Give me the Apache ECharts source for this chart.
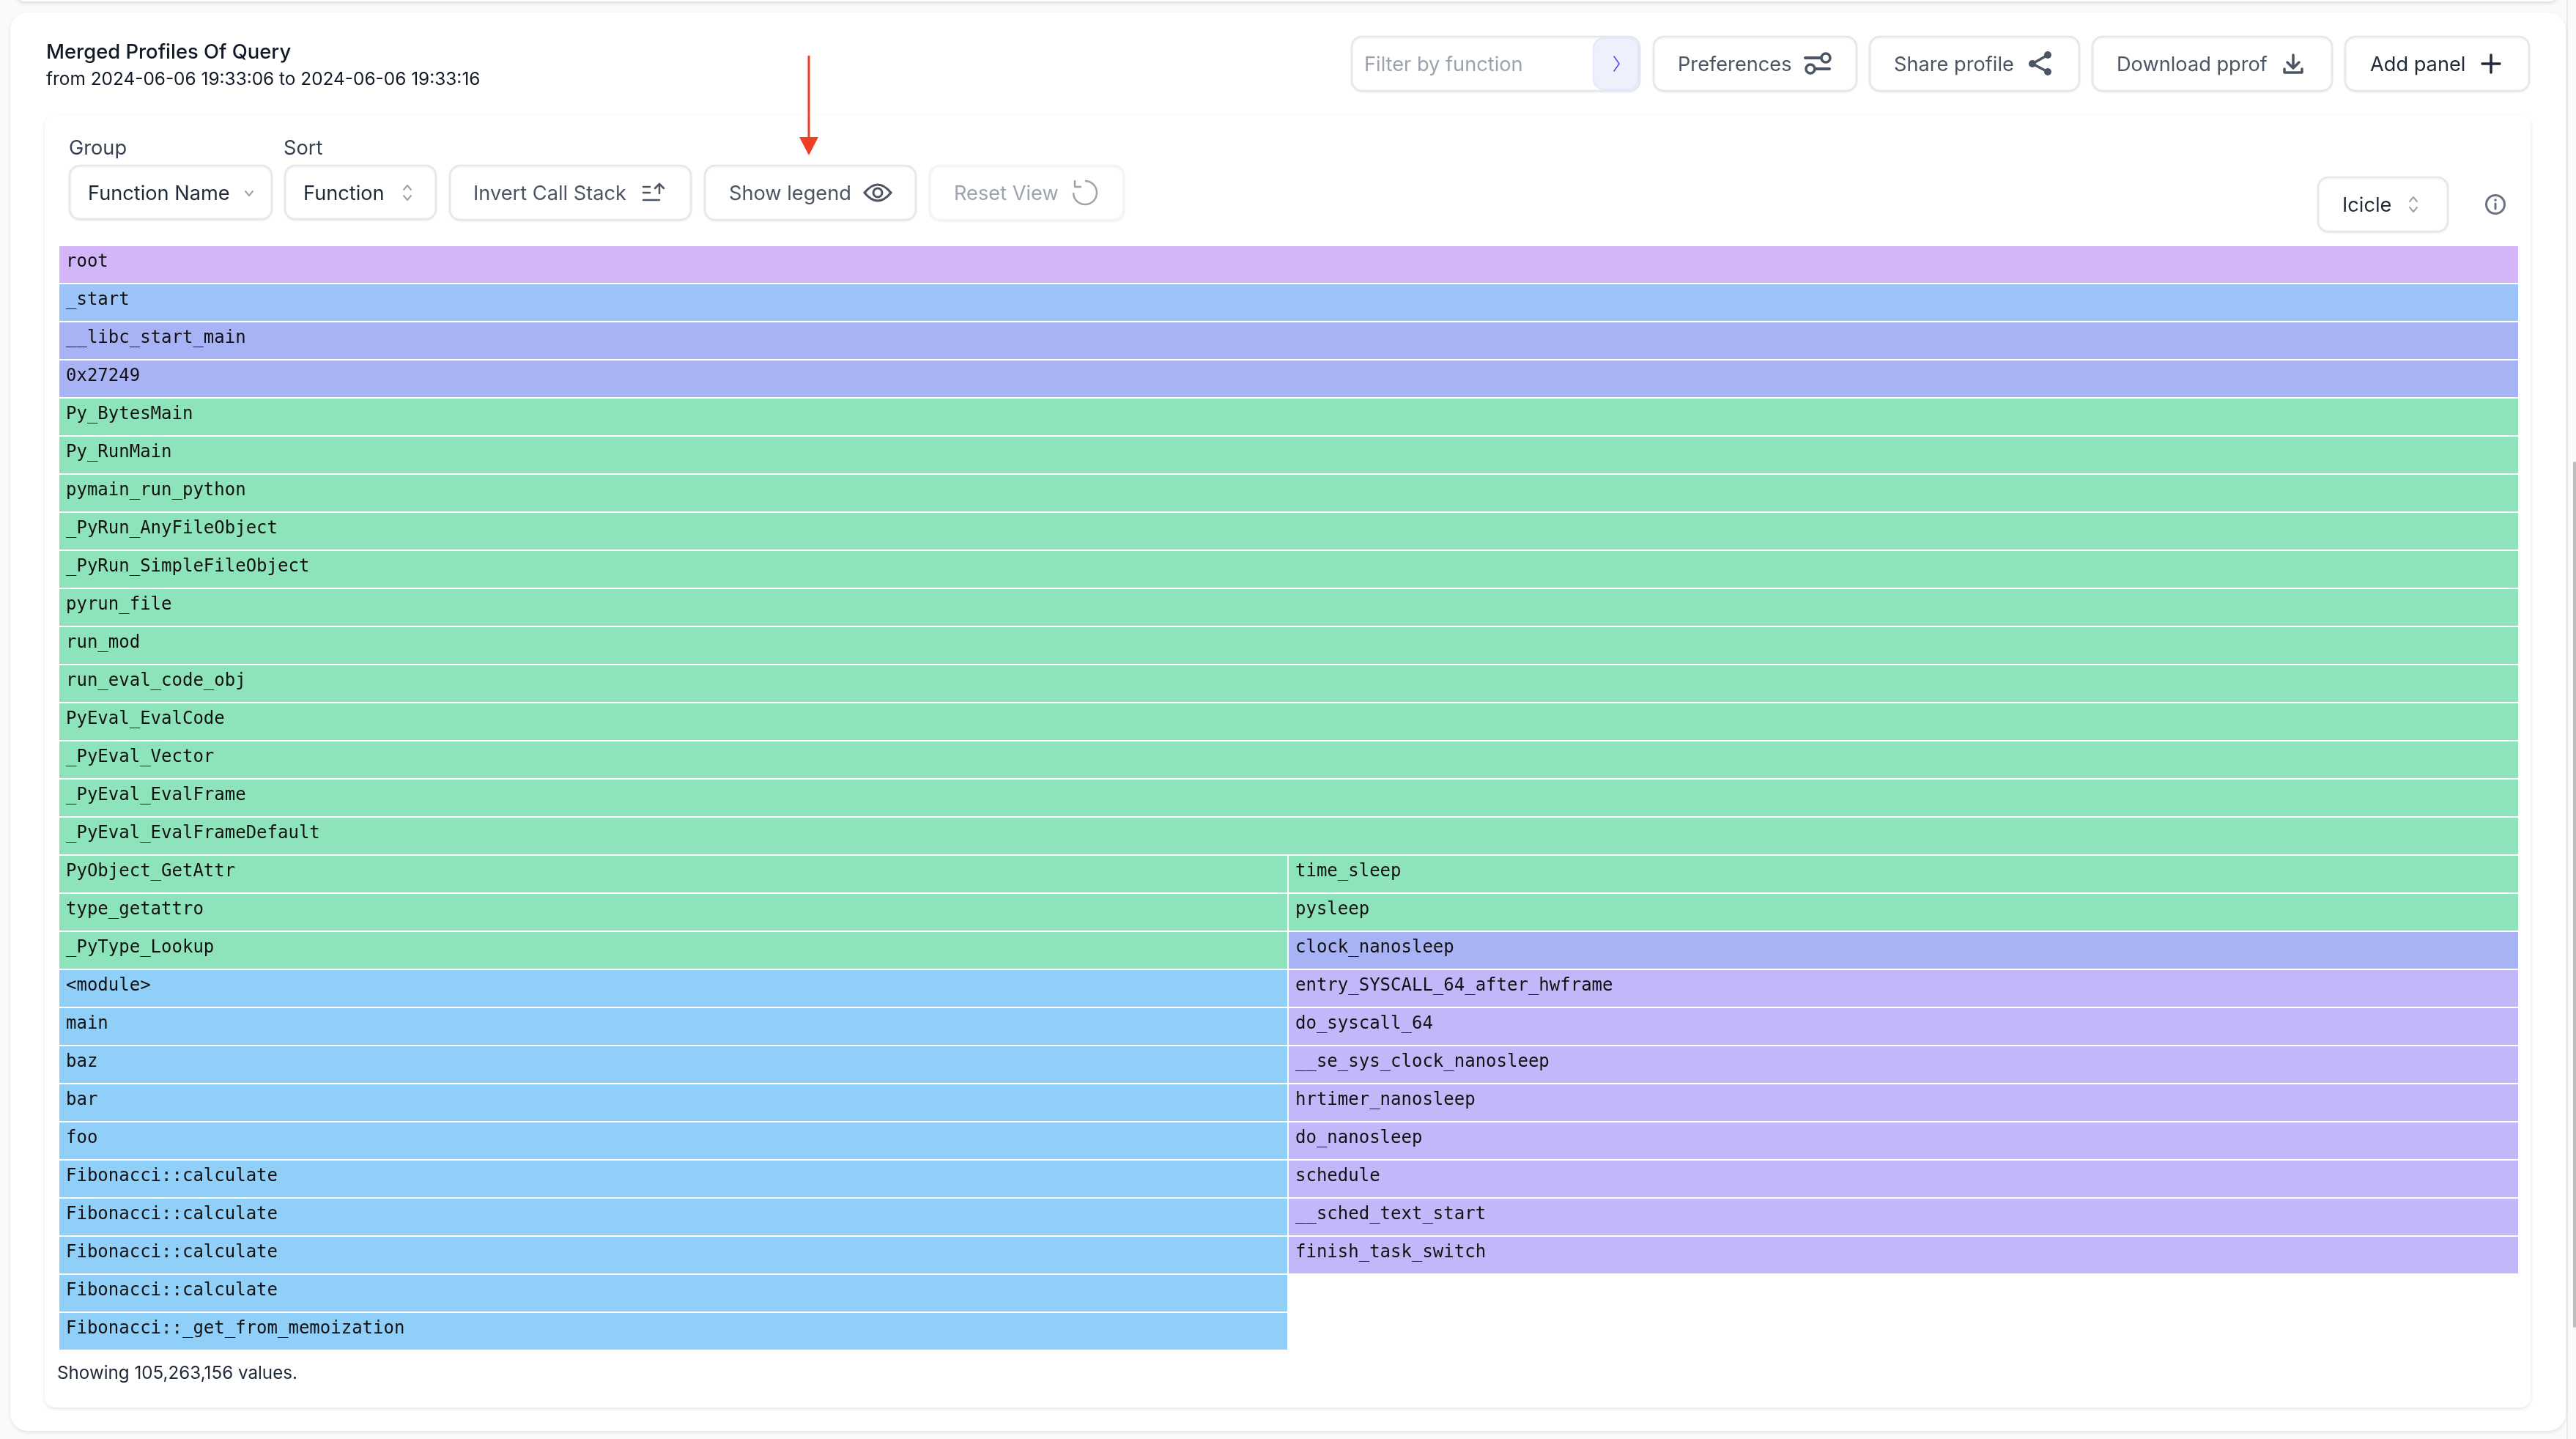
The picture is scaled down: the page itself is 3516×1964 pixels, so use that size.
<!DOCTYPE html>
<html>
<head>
<meta charset="utf-8">
<title>Merged Profiles Of Query</title>
<style>
html, body { margin: 0; padding: 0; background: #f9fafb; }
#main { width: 3516px; height: 1964px; }
</style>
<script src="https://cdn.jsdelivr.net/npm/echarts@6/dist/echarts.min.js"></script>
</head>
<body>
<div id="main"></div>
<script>
// icicle frames, one entry per box
var frameNames = [
    'root', '_start', '__libc_start_main', '0x27249', 'Py_BytesMain', 'Py_RunMain',
    'pymain_run_python', '_PyRun_AnyFileObject', '_PyRun_SimpleFileObject', 'pyrun_file',
    'run_mod', 'run_eval_code_obj', 'PyEval_EvalCode', '_PyEval_Vector', '_PyEval_EvalFrame',
    '_PyEval_EvalFrameDefault',
    'PyObject_GetAttr', 'type_getattro', '_PyType_Lookup', '<module>', 'main', 'baz', 'bar', 'foo',
    'Fibonacci::calculate', 'Fibonacci::calculate', 'Fibonacci::calculate', 'Fibonacci::calculate',
    'Fibonacci::_get_from_memoization',
    'time_sleep', 'pysleep', 'clock_nanosleep', 'entry_SYSCALL_64_after_hwframe', 'do_syscall_64',
    '__se_sys_clock_nanosleep', 'hrtimer_nanosleep', 'do_nanosleep', 'schedule', '__sched_text_start',
    'finish_task_switch'
];
var frameDepths = [
    0, 1, 2, 3, 4, 5, 6, 7, 8, 9, 10, 11, 12, 13, 14, 15,
    16, 17, 18, 19, 20, 21, 22, 23, 24, 25, 26, 27, 28,
    16, 17, 18, 19, 20, 21, 22, 23, 24, 25, 26
];
var frameStarts = [
    0, 0, 0, 0, 0, 0, 0, 0, 0, 0, 0, 0, 0, 0, 0, 0,
    0, 0, 0, 0, 0, 0, 0, 0, 0, 0, 0, 0, 0,
    52600333, 52600333, 52600333, 52600333, 52600333, 52600333, 52600333, 52600333, 52600333, 52600333, 52600333
];
var frameValues = [
    105263156, 105263156, 105263156, 105263156, 105263156, 105263156, 105263156, 105263156,
    105263156, 105263156, 105263156, 105263156, 105263156, 105263156, 105263156, 105263156,
    52600333, 52600333, 52600333, 52600333, 52600333, 52600333, 52600333, 52600333,
    52600333, 52600333, 52600333, 52600333, 52600333,
    52662823, 52662823, 52662823, 52662823, 52662823, 52662823, 52662823, 52662823, 52662823, 52662823, 52662823
];
var frameKinds = [
    'root', 'start', 'libc', 'libc', 'python', 'python', 'python', 'python', 'python', 'python',
    'python', 'python', 'python', 'python', 'python', 'python',
    'python', 'python', 'python', 'user', 'user', 'user', 'user', 'user', 'user', 'user', 'user', 'user', 'user',
    'python', 'python', 'libc', 'kernel', 'kernel', 'kernel', 'kernel', 'kernel', 'kernel', 'kernel', 'kernel'
];
var totalValue = 105263156;
var maxDepth = 29;

var kindColors = {
    root: '#d2b6f7',
    start: '#9dc4f8',
    libc: '#a8b3f6',
    python: '#8ee4ba',
    user: '#90cff8',
    kernel: '#c2b7f9'
};

var frameData = frameNames.map(function (name, i) {
    return [frameStarts[i], frameValues[i], frameDepths[i], name, frameKinds[i]];
});

var UI_FONT = 'Inter';
var GRAY_900 = '#1f2937';
var GRAY_600 = '#4b5563';
var GRAY_400 = '#9ca3af';
var BORDER = '#e5e7eb';

// page chrome helpers
function box(x0, y0, x1, y1, r, extra) {
    var o = extra || {};
    return {
        type: 'rect',
        z: o.z || 1,
        silent: true,
        shape: { x: x0, y: y0, width: x1 - x0, height: y1 - y0, r: r },
        style: {
            fill: o.fill || '#fff',
            stroke: o.stroke || null,
            lineWidth: o.lineWidth || 0,
            shadowBlur: o.blur || 0,
            shadowOffsetY: o.offsetY || 0,
            shadowColor: o.shadow || 'transparent'
        }
    };
}
function button(x0, y0, x1, y1, stroke) {
    return box(x0, y0, x1, y1, 14, {
        z: 2, stroke: stroke || BORDER, lineWidth: 2.5,
        blur: 3, offsetY: 1, shadow: 'rgba(0,0,0,0.06)'
    });
}
function label(text, x, y, size, color, weight) {
    return {
        type: 'text',
        z: 3,
        silent: true,
        x: x,
        y: y,
        style: {
            text: text,
            font: (weight || 400) + ' ' + size + 'px ' + UI_FONT,
            fill: color,
            align: 'left',
            verticalAlign: 'middle'
        }
    };
}
function line(points, color, width) {
    return {
        type: 'polyline',
        z: 3,
        silent: true,
        shape: { points: points },
        style: { stroke: color, fill: null, lineWidth: width, lineCap: 'round', lineJoin: 'round' }
    };
}
function ring(cx, cy, r, color, width) {
    return {
        type: 'circle',
        z: 3,
        silent: true,
        shape: { cx: cx, cy: cy, r: r },
        style: { stroke: color, fill: width ? null : color, lineWidth: width }
    };
}
function upDown(x, y) {
    return [
        line([[x - 5, y - 4], [x, y - 10], [x + 5, y - 4]], GRAY_400, 2),
        line([[x - 5, y + 4], [x, y + 10], [x + 5, y + 4]], GRAY_400, 2)
    ];
}
function curve(x1, y1, cx, cy, x2, y2, color, width) {
    return {
        type: 'bezierCurve',
        z: 3,
        silent: true,
        shape: { x1: x1, y1: y1, cpx1: cx, cpy1: cy, x2: x2, y2: y2 },
        style: { stroke: color, fill: null, lineWidth: width, lineCap: 'round' }
    };
}

var graphics = [
    // top neighbour card, scroll gutter and the two panels
    box(23, -20, 3490, 2, 10, { blur: 6, offsetY: 1, shadow: 'rgba(0,0,0,0.18)' }),
    box(3505, 0, 3516, 1964, 0, { fill: '#fafafa' }),
    box(3503, 0, 3505, 1964, 0, { fill: '#ebebeb' }),
    box(3512, 630, 3516, 1812, 4, { fill: '#bdbdbd' }),
    box(14, 17, 3502, 1953, 24, { blur: 5, offsetY: 2, shadow: 'rgba(0,0,0,0.10)' }),
    box(61, 157, 3454, 1921, 14, { blur: 5, offsetY: 2, shadow: 'rgba(0,0,0,0.10)' }),

    label('Merged Profiles Of Query', 63, 72, 27.4, '#111827', 500),
    label('from 2024-06-06 19:33:06 to 2024-06-06 19:33:16', 63, 109, 24.4, '#111827'),

    // top right toolbar
    button(1845, 50, 2238, 124),
    box(2175, 52, 2236, 122, 14, { z: 2, fill: '#eef0fc', stroke: '#e0e7ff', lineWidth: 2 }),
    label('Filter by function', 1862, 89, 27.2, GRAY_400),
    line([[2203, 77], [2210, 87], [2203, 97]], '#4f46e5', 1.5),
    button(2257, 50, 2534, 124),
    label('Preferences', 2290, 89, 27.2, GRAY_600),
    line([[2464, 79], [2485, 79]], GRAY_600, 4),
    ring(2492, 79, 6, GRAY_600, 3.5),
    line([[2478, 94], [2497, 94]], GRAY_600, 4),
    ring(2471, 94, 6, GRAY_600, 3.5),
    button(2552, 50, 2838, 124),
    label('Share profile', 2585, 89, 27.2, GRAY_600),
    line([[2795, 75], [2774, 87], [2795, 98]], GRAY_600, 3.5),
    ring(2795, 75, 5, GRAY_600, 0),
    ring(2774, 87, 5, GRAY_600, 0),
    ring(2795, 98, 5, GRAY_600, 0),
    button(2856, 50, 3183, 124),
    label('Download pprof', 2889, 89, 27.2, GRAY_600),
    line([[3130, 75], [3130, 92]], GRAY_600, 3.5),
    line([[3122, 85], [3130, 93], [3138, 85]], GRAY_600, 3.5),
    line([[3118, 94], [3118, 99], [3142, 99], [3142, 94]], GRAY_600, 3.5),
    button(3201, 50, 3452, 124),
    label('Add panel', 3235, 89, 27.2, GRAY_900),
    line([[3388, 87], [3412, 87]], GRAY_900, 3.5),
    line([[3400, 75], [3400, 99]], GRAY_900, 3.5),

    // flame graph toolbar
    label('Group', 94, 203, 27.2, '#374151'),
    label('Sort', 387, 203, 27.2, '#374151'),
    button(95, 226, 371, 299),
    label('Function Name', 120, 265, 27.2, GRAY_900),
    line([[335, 261], [340, 267], [345, 261]], GRAY_400, 2),
    button(389, 226, 595, 299),
    label('Function', 414, 265, 27.2, GRAY_900),
    button(614, 226, 943, 300),
    label('Invert Call Stack', 646, 265, 27.2, GRAY_600),
    line([[878, 255], [887, 255]], GRAY_600, 2.5),
    line([[878, 263], [887, 263]], GRAY_600, 2.5),
    line([[878, 273], [900, 273]], GRAY_600, 2.5),
    line([[900, 264], [900, 251]], GRAY_600, 2.5),
    line([[894, 257], [900, 251], [906, 257]], GRAY_600, 2.5),
    button(962, 226, 1250, 300),
    label('Show legend', 995, 265, 27.2, GRAY_600),
    curve(1180, 263, 1198, 241, 1216, 263, GRAY_600, 3),
    curve(1180, 263, 1198, 285, 1216, 263, GRAY_600, 3),
    ring(1198, 263, 6, GRAY_600, 3),
    button(1269, 226, 1534, 300, '#f3f4f6'),
    label('Reset View', 1302, 265, 27.2, GRAY_400),
    {
        type: 'arc',
        z: 3,
        silent: true,
        shape: { cx: 1481, cy: 263, r: 16, startAngle: -Math.PI / 2, endAngle: Math.PI, clockwise: true },
        style: { stroke: GRAY_400, fill: null, lineWidth: 2.5 }
    },
    line([[1467, 247], [1467, 255], [1475, 255]], GRAY_400, 2.5),

    // red annotation arrow
    line([[1104, 77], [1104, 190]], '#ee3f26', 3),
    {
        type: 'polygon',
        z: 3,
        silent: true,
        shape: { points: [[1091, 187], [1117, 187], [1104, 212]] },
        style: { fill: '#ee3f26' }
    },

    button(3164, 242, 3341, 316),
    label('Icicle', 3197, 281, 27.2, GRAY_900),
    ring(3406, 279, 12.5, '#6b7280', 3),
    ring(3406, 273, 1.8, '#6b7280', 0),
    line([[3406, 278], [3406, 285]], '#6b7280', 3),

    label('Showing 105,263,156 values.', 78, 1875, 24.2, GRAY_900)
].concat(upDown(556, 263), upDown(3294, 279));

function renderFrame(params, api) {
    var start = api.value(0);
    var depth = api.value(2);
    var topLeft = api.coord([start, depth]);
    var bottomRight = api.coord([start + api.value(1), depth + 1]);
    var x0 = Math.round(topLeft[0]);
    var x1 = Math.round(bottomRight[0]);
    var name = frameData[params.dataIndex][3];
    var kind = frameData[params.dataIndex][4];
    return {
        type: 'group',
        children: [{
            type: 'rect',
            shape: {
                x: x0,
                y: topLeft[1],
                width: x1 - x0 - 2,
                height: bottomRight[1] - topLeft[1] - 2
            },
            style: { fill: kindColors[kind] }
        }, {
            type: 'text',
            x: x0 + 9,
            y: topLeft[1] + 22,
            style: {
                text: name,
                font: '24px "DejaVu Sans Mono"',
                fill: '#111',
                align: 'left',
                verticalAlign: 'middle'
            }
        }]
    };
}

var chart = echarts.init(document.getElementById('main'));
chart.setOption({
    animation: false,
    backgroundColor: '#f9fafb',
    tooltip: { show: false },
    graphic: { elements: graphics },
    grid: { left: 81, top: 336, width: 3358, height: 1508 },
    xAxis: { type: 'value', min: 0, max: totalValue, show: false },
    yAxis: { type: 'value', min: 0, max: maxDepth, inverse: true, show: false },
    series: [{
        type: 'custom',
        z: 10,
        silent: true,
        clip: false,
        encode: { x: [0, 1], y: 2 },
        renderItem: renderFrame,
        data: frameData
    }]
});
</script>
</body>
</html>
